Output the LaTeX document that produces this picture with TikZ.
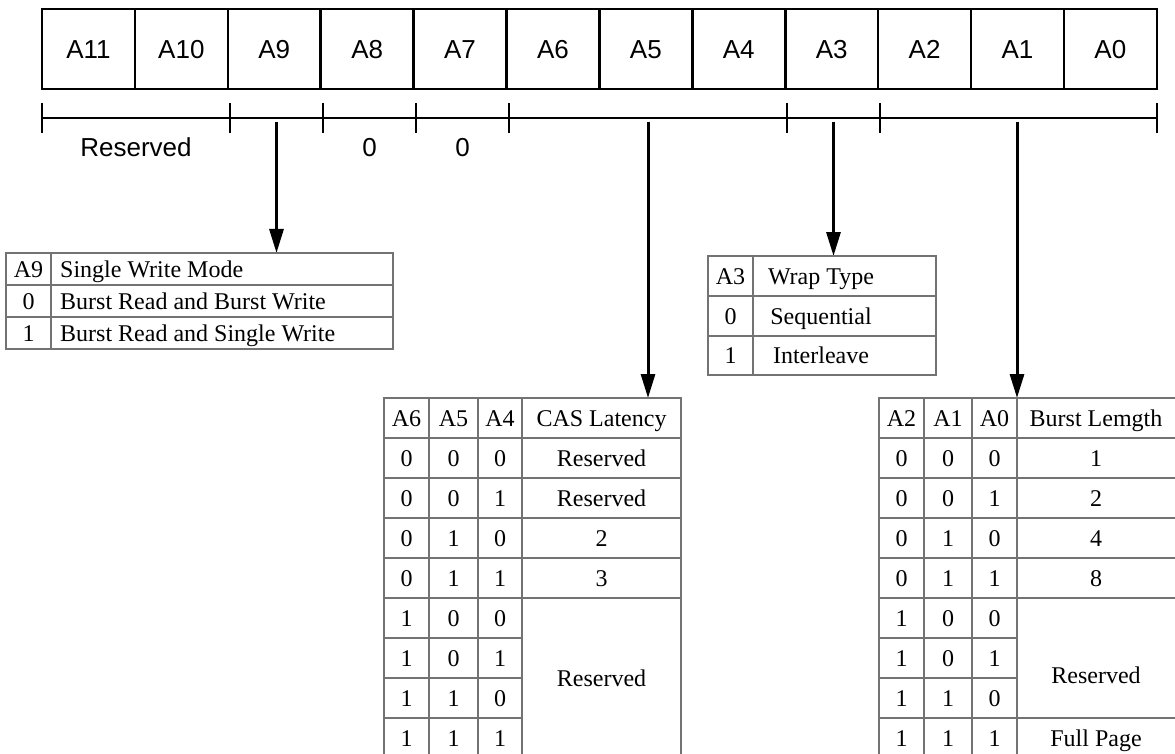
\documentclass[tikz,border=0pt]{standalone}
\usepackage{fontspec}
\setmainfont{Liberation Serif}
\newfontfamily\regfont{Liberation Sans}
\usetikzlibrary{arrows.meta}

\tikzset{
  regcell/.style={draw,line width=2.6pt,minimum width=92.9pt,minimum height=80pt,inner sep=0pt,
    text height=18.6pt,text depth=0pt,font=\regfont\fontsize{26}{26}\selectfont},
  reglabel/.style={inner sep=0pt,text height=18.6pt,text depth=0pt,font=\regfont\fontsize{26}{26}\selectfont},
  brace/.style={line width=2.6pt},
  pick/.style={line width=3pt,-{Triangle[width=14pt,length=24pt]}},
  tabline/.style={draw=black!55,line width=1.2pt},
  cell/.style={inner sep=0pt,text height=16pt,text depth=0pt,font=\fontsize{24}{24}\selectfont},
}

\begin{document}
\begin{tikzpicture}[x=1pt,y=-1pt]
  % 画像の大きさ
  \useasboundingbox (0,0) rectangle (1175,754);
  \clip (0,0) rectangle (1175,754);
  % レジスタのビット
  \foreach \b [count=\k from 0] in {11,10,...,0}
    \node[regcell] (A\b) at (88.45+92.9*\k,49) {A\b};
  % ビットのまとまり
  \draw[brace] (42,118) -- (1157,118);
  \foreach \x in {42,230,323,416,509,787,880,1157}
    \draw[brace] (\x,103) -- (\x,133);
  \node[reglabel] (rsv) at (136,147) {Reserved};
  \node[reglabel] (zero8) at (369.5,147) {0};
  \node[reglabel] (zero7) at (462.5,147) {0};
  % 矢印
  \coordinate (from9) at (276.5,122);
  \coordinate (fromcl) at (648,122);
  \coordinate (fromwt) at (833.5,122);
  \coordinate (frombl) at (1017,122);
  \coordinate (to9) at (276.5,253);
  \coordinate (tocl) at (648,398);
  \coordinate (towt) at (833.5,256);
  \coordinate (tobl) at (1017,398);
  \draw[pick] (from9) -- (to9);
  \draw[pick] (fromcl) -- (tocl);
  \draw[pick] (fromwt) -- (towt);
  \draw[pick] (frombl) -- (tobl);
  % A9 の表
  \draw[tabline] (6,253) rectangle (393,349);
  \draw[tabline] (6,285) -- (393,285) (6,317) -- (393,317) (51,253) -- (51,349);
  \node[cell] (sw0) at (28.5,269) {A9};
  \node[cell,anchor=west] (swt0) at (60,269) {Single Write Mode};
  \node[cell] (sw1) at (28.5,301) {0};
  \node[cell,anchor=west] (swt1) at (60,301) {Burst Read and Burst Write};
  \node[cell] (sw2) at (28.5,333) {1};
  \node[cell,anchor=west] (swt2) at (60,333) {Burst Read and Single Write};
  % A3 の表
  \draw[tabline] (708,256) rectangle (936,375);
  \draw[tabline] (708,296) -- (936,296) (708,336) -- (936,336) (753,256) -- (753,375);
  \node[cell] (wt0) at (730.5,276) {A3};
  \node[cell] (wtt0) at (821,276) {Wrap Type};
  \node[cell] (wt1) at (730.5,316) {0};
  \node[cell] (wtt1) at (821,316) {Sequential};
  \node[cell] (wt2) at (730.5,355.5) {1};
  \node[cell] (wtt2) at (821,355.5) {Interleave};
  % A6-A4 の表
  \draw[tabline] (384,398) rectangle (681,758);
  \foreach \y in {438,478,518,558,598} \draw[tabline] (384,\y) -- (681,\y);
  \foreach \y in {638,678,718} \draw[tabline] (384,\y) -- (522,\y);
  \foreach \x in {429,478,522} \draw[tabline] (\x,398) -- (\x,758);
  \node[cell] (cla) at (406.5,418) {A6};
  \node[cell] (clb) at (453.5,418) {A5};
  \node[cell] (clc) at (500,418) {A4};
  \node[cell] (clh) at (601.5,418) {CAS Latency};
  \foreach \a/\b/\c [count=\r] in {0/0/0,0/0/1,0/1/0,0/1/1,1/0/0,1/0/1,1/1/0,1/1/1} {
    \node[cell] (cla\r) at (406.5,418+40*\r) {\a};
    \node[cell] (clb\r) at (453.5,418+40*\r) {\b};
    \node[cell] (clc\r) at (500,418+40*\r) {\c};
  }
  \foreach \v [count=\r] in {Reserved,Reserved,2,3}
    \node[cell] (clv\r) at (601.5,418+40*\r) {\v};
  \node[cell] (clv5) at (601.5,678) {Reserved};
  % A2-A0 の表
  \draw[tabline] (879,398) rectangle (1177,758);
  \foreach \y in {438,478,518,558,598,718} \draw[tabline] (879,\y) -- (1177,\y);
  \foreach \y in {638,678} \draw[tabline] (879,\y) -- (1017,\y);
  \foreach \x in {924,972,1017} \draw[tabline] (\x,398) -- (\x,758);
  \node[cell] (bla) at (901.5,418) {A2};
  \node[cell] (blb) at (948,418) {A1};
  \node[cell] (blc) at (994.5,418) {A0};
  \node[cell] (blh) at (1096,418) {Burst Lemgth};
  \foreach \a/\b/\c [count=\r] in {0/0/0,0/0/1,0/1/0,0/1/1,1/0/0,1/0/1,1/1/0,1/1/1} {
    \node[cell] (bla\r) at (901.5,418+40*\r) {\a};
    \node[cell] (blb\r) at (948,418+40*\r) {\b};
    \node[cell] (blc\r) at (994.5,418+40*\r) {\c};
  }
  \foreach \v [count=\r] in {1,2,4,8}
    \node[cell] (blv\r) at (1096,418+40*\r) {\v};
  \node[cell] (blv5) at (1096,675) {Reserved};
  \node[cell] (blv8) at (1096,738) {Full Page};
\end{tikzpicture}
\end{document}
